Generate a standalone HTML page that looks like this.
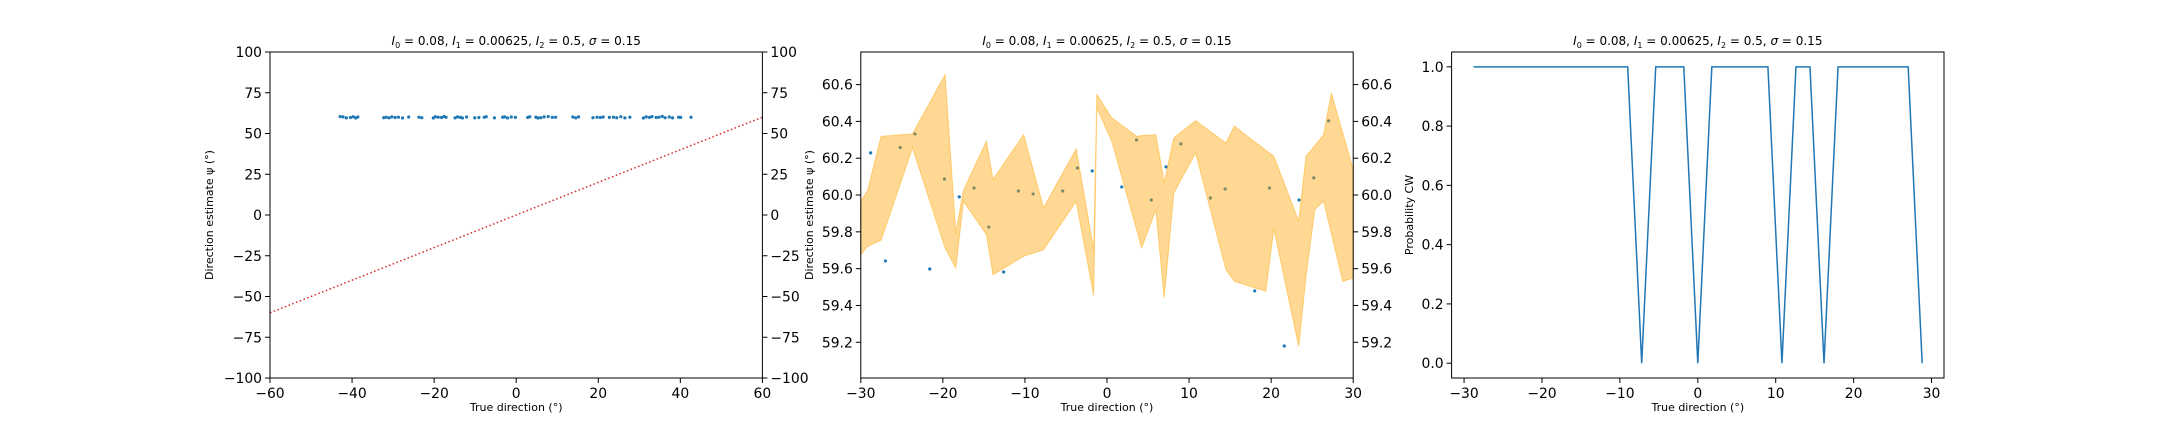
<!DOCTYPE html>
<html><head><meta charset="utf-8"><style>
html,body{margin:0;padding:0;background:#fff;}
svg{display:block;font-family:"DejaVu Sans","Liberation Sans",sans-serif;}
</style></head><body>
<svg id="fig" width="2160" height="432" viewBox="0 0 2160 432" xmlns="http://www.w3.org/2000/svg"></svg>
<script>
// Panel 1 data
const p1X = [-42.9,-42.2,-41.4,-40.4,-39.7,-39.1,-38.6,-32.3,-31.7,-31.0,-30.3,-29.5,-28.7,-27.7,-26.2,-23.7,-23.0,-20.2,-19.7,-19.0,-18.2,-17.6,-17.1,-14.9,-14.3,-13.6,-13.1,-12.1,-10.1,-9.1,-7.8,-7.3,-5.3,-3.3,-2.8,-2.1,-1.2,-0.2,2.8,3.3,4.8,5.3,6.0,6.8,7.8,8.8,9.6,13.8,14.5,15.2,18.7,19.7,20.5,21.2,22.7,23.7,24.5,25.5,26.5,27.7,31.0,31.7,32.5,33.1,34.1,34.8,35.6,36.3,37.3,38.1,39.6,40.1,42.6];
const p1Y = [60.4,60.2,59.6,59.8,60.3,59.5,60.1,59.7,60.0,59.6,60.2,59.8,60.0,59.5,60.1,60.0,59.7,59.5,60.3,60.0,59.8,60.4,60.0,59.6,60.2,59.9,59.5,60.1,59.6,59.8,60.0,60.3,59.6,60.0,60.2,59.5,60.1,59.9,59.8,60.3,60.0,59.5,59.7,60.2,60.4,59.9,60.0,60.1,59.6,60.2,59.7,60.0,59.8,60.1,59.9,60.0,59.7,60.3,59.6,60.0,59.5,60.2,59.9,60.4,59.8,60.0,60.5,59.7,60.1,59.6,60.0,59.9,60.0];
const p1Ticks = [-100,-75,-50,-25,0,25,50,75,100];
const p1XTicks = [-60,-40,-20,0,20,40,60];
// Panel 2 data
const p2X = [-28.8,-27.0,-25.2,-23.4,-21.6,-19.8,-18.0,-16.2,-14.4,-12.6,-10.8,-9.0,-5.4,-3.6,-1.8,1.8,3.6,5.4,7.2,9.0,12.6,14.4,18.0,19.8,21.6,23.4,25.2,27.0];
const p2Y = [60.229,59.642,60.258,60.332,59.598,60.087,59.99,60.038,59.826,59.582,60.022,60.006,60.022,60.147,60.131,60.044,60.299,59.973,60.153,60.278,59.984,60.033,59.479,60.038,59.18,59.973,60.093,60.403];
const bandX = [-30.0,-29.16,-27.53,-23.70,-19.73,-18.42,-17.49,-14.69,-13.89,-10.16,-7.73,-3.76,-1.62,-1.24,0.58,3.61,4.22,5.95,6.97,8.14,10.80,14.49,15.52,19.35,20.33,23.36,24.25,25.32,26.40,27.33,28.73,30.0];
const bandUpper = [59.966,60.026,60.319,60.332,60.654,59.794,60.026,60.292,60.084,60.328,59.930,60.250,59.703,60.546,60.419,60.319,60.323,60.328,60.066,60.310,60.404,60.283,60.374,60.243,60.211,59.857,60.211,60.268,60.328,60.555,60.336,60.138];
const bandLower = [59.676,59.721,59.754,60.256,59.712,59.604,59.966,59.785,59.567,59.667,59.703,59.966,59.453,60.473,60.292,59.812,59.712,59.921,59.441,60.011,60.229,59.595,59.531,59.477,59.816,59.178,59.558,59.921,59.966,59.792,59.531,59.549];
const p2Ticks = [59.2,59.4,59.6,59.8,60.0,60.2,60.4,60.6];
const p2XTicks = [-30,-20,-10,0,10,20,30];
// Panel 3 data
const p3X = [-28.8,-27.0,-25.2,-23.4,-21.6,-19.8,-18.0,-16.2,-14.4,-12.6,-10.8,-9.0,-7.2,-5.4,-3.6,-1.8,0.0,1.8,3.6,5.4,7.2,9.0,10.8,12.6,14.4,16.2,18.0,19.8,21.6,23.4,25.2,27.0,28.8];
const p3Y = [1,1,1,1,1,1,1,1,1,1,1,1,0,1,1,1,0,1,1,1,1,1,0,1,1,0,1,1,1,1,1,1,0];
const p3Ticks = [0.0,0.2,0.4,0.6,0.8,1.0];
const p3XTicks = [-30,-20,-10,0,10,20,30];

const NS="http://www.w3.org/2000/svg";
const svg=document.getElementById('fig');
function mk(tag,attrs,parent){const e=document.createElementNS(NS,tag);for(const k in attrs)e.setAttribute(k,attrs[k]);(parent||svg).appendChild(e);return e;}
const TOP=52,BOT=378;
function lin(d0,d1,r0,r1){return v=>r0+(v-d0)*(r1-r0)/(d1-d0);}

function frame(g,L,R,xs,ys,xt,yt,fmtX,fmtY,right,xlabel,ylabel,ylx){
  const ax=mk('rect',{x:L,y:TOP,width:R-L,height:BOT-TOP,fill:'none',stroke:'#000','stroke-width':1},g);
  
  
  xt.forEach(v=>{const x=xs(v);
    const t=mk('line',{x1:x,x2:x,y1:BOT,y2:BOT+5,stroke:'#000'},g);
    
    
    const l=mk('text',{x:x,y:BOT+20,'text-anchor':'middle','font-size':13.9},g);l.textContent=fmtX(v);
    
    });
  yt.forEach(v=>{const y=ys(v);
    const t=mk('line',{x1:L-5,x2:L,y1:y,y2:y,stroke:'#000'},g);
    
    
    const l=mk('text',{x:L-8,y:y+5,'text-anchor':'end','font-size':13.9},g);l.textContent=fmtY(v);
    
    
    if(right){const t2=mk('line',{x1:R,x2:R+5,y1:y,y2:y,stroke:'#000'},g);
      
      
      const l2=mk('text',{x:R+8,y:y+5,'text-anchor':'start','font-size':13.9},g);l2.textContent=fmtY(v);
      
      }
  });
  const xl=mk('text',{x:(L+R)/2,y:411,'text-anchor':'middle','font-size':11},g);xl.textContent=xlabel;
  
  
  const cy=(TOP+BOT)/2;
  const yl=mk('text',{x:ylx,y:cy,'text-anchor':'middle','font-size':11,transform:`rotate(-90 ${ylx} ${cy})`},g);yl.textContent=ylabel;
  
  
  const tt=mk('text',{x:(L+R)/2,y:45,'text-anchor':'middle','font-size':12},g);
  
  
  tt.innerHTML='<tspan font-style="italic">I</tspan><tspan font-size="8" dy="3">0</tspan><tspan dy="-3"> = 0.08, </tspan><tspan font-style="italic">I</tspan><tspan font-size="8" dy="3">1</tspan><tspan dy="-3"> = 0.00625, </tspan><tspan font-style="italic">I</tspan><tspan font-size="8" dy="3">2</tspan><tspan dy="-3"> = 0.5, </tspan><tspan font-style="italic">σ</tspan><tspan> = 0.15</tspan>';
}
const minus=s=>s.replace('-','\u2212');

// Panel 1
{const L=270,R=762.4;const g=mk('g',{});
 const xs=lin(-60,60,L,R),ys=lin(-100,100,BOT,TOP);
 const ln=mk('line',{x1:xs(-60),y1:ys(-60),x2:xs(60),y2:ys(60),stroke:'#d62728','stroke-width':1.5,'stroke-dasharray':'1.5,2.5'},g);
 
 
 p1X.forEach((x,i)=>{const c=mk('circle',{cx:xs(x),cy:ys(p1Y[i]),r:1.6,fill:'#1f77b4'},g);
   
   });
 frame(g,L,R,xs,ys,p1XTicks,p1Ticks,v=>minus(String(v)),v=>minus(String(v)),true,'True direction (°)','Direction estimate ψ (°)',213);
}
// Panel 2
{const L=860.8,R=1353.2;const g=mk('g',{});
 const xs=lin(-30,30,L,R),ys=lin(59.006,60.777,BOT,TOP);
 p2X.forEach((x,i)=>{const c=mk('circle',{cx:xs(x),cy:ys(p2Y[i]),r:1.6,fill:'#1f77b4'},g);
   
   });
 let d='M'+bandX.map((x,i)=>xs(x)+','+ys(bandUpper[i])).join('L');
 for(let i=bandX.length-1;i>=0;i--)d+='L'+xs(bandX[i])+','+ys(bandLower[i]);
 const b=mk('path',{d:d+'Z',fill:'#ffa500','fill-opacity':0.42,stroke:'#ffa500','stroke-opacity':0.45,'stroke-width':1},g);
 
 
 frame(g,L,R,xs,ys,p2XTicks,p2Ticks,v=>minus(String(v)),v=>v.toFixed(1),true,'True direction (°)','Direction estimate ψ (°)',813);
}
// Panel 3
{const L=1451.6,R=1944;const g=mk('g',{});
 const xs=lin(-31.6,31.6,L,R),ys=lin(-0.05,1.05,BOT,TOP);
 const p=mk('polyline',{points:p3X.map((x,i)=>xs(x)+','+ys(p3Y[i])).join(' '),fill:'none',stroke:'#1f77b4','stroke-width':1.5},g);
 
 
 frame(g,L,R,xs,ys,p3XTicks,p3Ticks,v=>minus(String(v)),v=>v.toFixed(1),false,'True direction (°)','Probability CW',1413);
}
</script>
</body></html>
